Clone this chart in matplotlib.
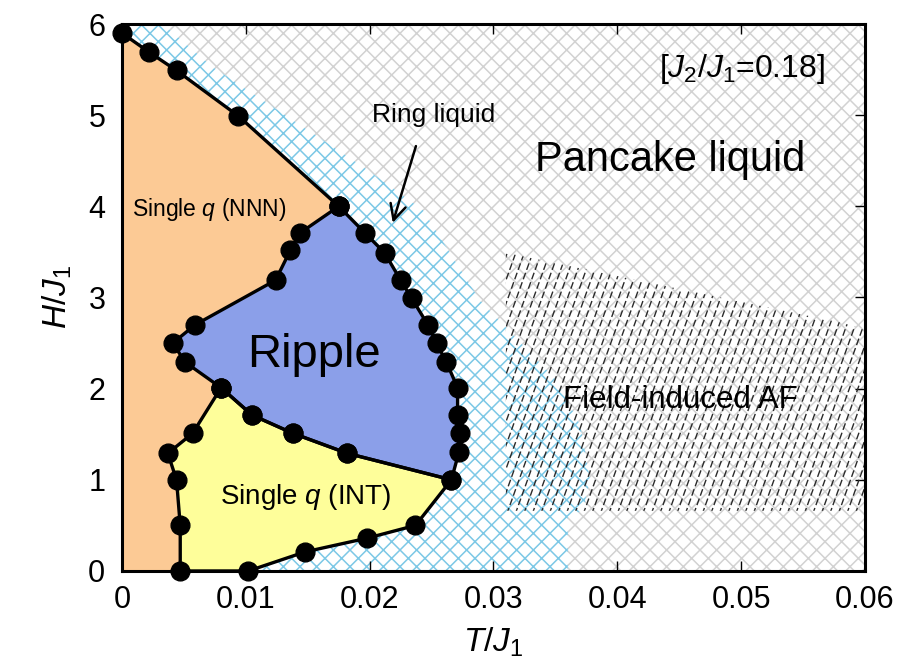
import numpy as np
import matplotlib
matplotlib.use("Agg")
import matplotlib.pyplot as plt
from matplotlib.patches import Polygon, Rectangle

plt.rcParams['font.family'] = ['Liberation Sans', 'DejaVu Sans']
plt.rcParams['mathtext.fontset'] = 'custom'
plt.rcParams['mathtext.rm'] = 'Liberation Sans'
plt.rcParams['mathtext.it'] = 'Liberation Sans:italic'
plt.rcParams['hatch.linewidth'] = 1.1

# boundary between single-q (NNN) and the liquid
nnn_T = [0.0, 0.0022, 0.0044, 0.0094, 0.0175]
nnn_H = [5.9, 5.69, 5.49, 4.99, 4.0]

# ripple phase, closed polygon (clockwise from top)
rip_T = [0.0175, 0.0196, 0.0212, 0.0225, 0.0234, 0.0247, 0.0254, 0.0262, 0.0271,
         0.0271, 0.0273, 0.0272, 0.0266, 0.0182, 0.0138, 0.0105, 0.0080, 0.0051,
         0.0041, 0.0059, 0.0124, 0.0136, 0.0144, 0.0175]
rip_H = [4.0, 3.71, 3.49, 3.19, 2.99, 2.70, 2.50, 2.29, 2.01,
         1.71, 1.51, 1.30, 1.0, 1.29, 1.51, 1.71, 2.01, 2.29,
         2.50, 2.70, 3.19, 3.52, 3.71, 4.0]

# single-q (INT) phase, closed polygon
int_T = [0.0080, 0.0105, 0.0138, 0.0182, 0.0266, 0.0237, 0.0198, 0.0148, 0.0102,
         0.0047, 0.0047, 0.0044, 0.0037, 0.0057, 0.0080]
int_H = [2.01, 1.71, 1.51, 1.29, 1.0, 0.50, 0.36, 0.21, 0.0,
         0.0, 0.50, 1.0, 1.29, 1.51, 2.01]

# outer edge of ring liquid region
ring_T = [0.0033, 0.0073, 0.0133, 0.0195, 0.0243, 0.0289, 0.0351, 0.0370, 0.0378, 0.0372, 0.0360, 0.0360]
ring_H = [6.0, 5.53, 4.99, 4.43, 3.96, 2.97, 2.09, 1.60, 1.0, 0.66, 0.60, 0.0]

# field-induced AF region
af_T = [0.031, 0.0582, 0.060, 0.060, 0.031]
af_H = [3.49, 2.72, 2.65, 0.66, 0.66]

fig = plt.figure(figsize=(9.06, 6.65), dpi=100)
ax = fig.add_axes([0.1347, 0.1414, 0.82, 0.8225])
ax.set_xlim(0, 0.06)
ax.set_ylim(0, 6)

# pancake liquid background
ax.add_patch(Rectangle((0, 0), 1, 1, transform=ax.transAxes, facecolor='white',
                       edgecolor='#d2d2d2', hatch='xx', lw=0, zorder=0))
# ring liquid band
ring_poly = list(zip(ring_T, ring_H)) + [(0.0, 0.0), (0.0, 6.0)]
ax.add_patch(Polygon(ring_poly, closed=True, facecolor='white', edgecolor='#7cc8e6',
                     hatch='xx', lw=0, zorder=1))

# field induced AF: steep dashed hatching clipped to region
af_patch = Polygon(list(zip(af_T, af_H)), closed=True, facecolor='none', lw=0, zorder=2)
ax.add_patch(af_patch)
sx = 0.06 / 743.0   # data per pixel
sy = 6.0 / 547.0
for i, x0 in enumerate(np.arange(0.015, 0.062, 8.5 * sx)):
    xs = [x0, x0 + 330 * 0.36 * sx]
    ys = [0.0, 330 * sy]
    ln, = ax.plot(xs, ys, color='#2a2a2a', lw=1.0, ls=(0, (5, 2.2)), zorder=2)
    ln.set_clip_path(af_patch)

# single q (NNN) orange
orange_poly = [(0.0, 0.0)] + list(zip(nnn_T, nnn_H)) + list(zip(rip_T[1:13], rip_H[1:13])) \
    + list(zip(int_T[5:9], int_H[5:9]))
ax.add_patch(Polygon(orange_poly, closed=True, facecolor='#fcca95', lw=0, zorder=3))
ax.add_patch(Polygon(list(zip(rip_T, rip_H)), closed=True, facecolor='#8b9fe9', lw=0, zorder=3))
ax.add_patch(Polygon(list(zip(int_T, int_H)), closed=True, facecolor='#fefe9a', lw=0, zorder=3))

mk = dict(color='black', lw=2.4, marker='o', ms=13.5, zorder=5, clip_on=False)
ax.plot(nnn_T, nnn_H, **mk)
ax.plot(rip_T, rip_H, **mk)
ax.plot(int_T, int_H, **mk)

ax.text(0.0501, 5.51, r'[$J_2$/$J_1$=0.18]', fontsize=23, ha='center', va='center', zorder=6)
ax.text(0.0443, 4.51, 'Pancake liquid', fontsize=30, ha='center', va='center', zorder=6)
ax.text(0.0252, 5.0, 'Ring liquid', fontsize=19, ha='center', va='center', zorder=6)
ax.annotate('', xy=(0.0218, 3.79), xytext=(0.0238, 4.69),
            arrowprops=dict(arrowstyle='->', lw=1.8, color='black',
                            mutation_scale=28), zorder=6)
ax.text(0.0070, 3.97, r'Single $q$ (NNN)', fontsize=16.5, ha='center', va='center', zorder=6)
ax.text(0.0155, 2.37, 'Ripple', fontsize=34, ha='center', va='center', zorder=6)
ax.text(0.0148, 0.81, r'Single $q$ (INT)', fontsize=20, ha='center', va='center', zorder=6)
ax.text(0.0451, 1.875, 'Field-induced AF', fontsize=22.5, ha='center', va='center', zorder=6)

ax.set_xticks([0, 0.01, 0.02, 0.03, 0.04, 0.05, 0.06])
ax.set_xticklabels(['0', '0.01', '0.02', '0.03', '0.04', '0.05', '0.06'])
ax.set_yticks([0, 1, 2, 3, 4, 5, 6])
ax.tick_params(direction='in', length=7, width=1, labelsize=22, top=True, right=True, pad=10)
ax.tick_params(axis='y', pad=12)
for sp in ax.spines.values():
    sp.set_linewidth(2.2)
    sp.set_zorder(7)

ax.set_xlabel(r'$T/J_1$', fontsize=24, labelpad=8)
ax.set_ylabel(r'$H/J_1$', fontsize=24, labelpad=10)

fig.savefig('out.png', dpi=100)
